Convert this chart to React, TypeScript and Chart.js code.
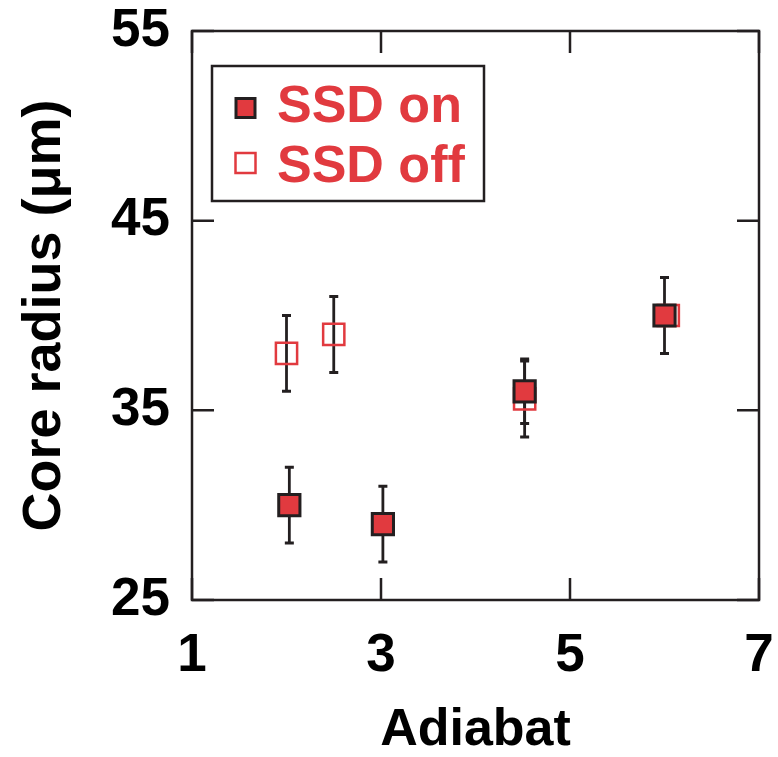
import React, { useEffect, useRef } from 'react';
import { Chart, registerables } from 'chart.js';
Chart.register(...registerables);

// SSD on (filled squares)
const onX = [2.03, 3.02, 4.52, 6.0];
const onY = [30, 29, 36, 40];
const onErr = [2, 2, 1.7, 2];
// SSD off (open squares)
const offX = [2.0, 2.5, 4.52, 6.04];
const offY = [38, 39, 35.6, 40];
const offErr = [2, 2, 2, 0];

const xTickValues = [1, 3, 5, 7];
const yTickValues = [25, 35, 45, 55];
const xTitle = 'Adiabat';
const yTitle = 'Core radius (μm)';
const seriesLabels = ['SSD on', 'SSD off'];

const RED = '#e13a3f';
const DARK = '#231f20';
const FONT = "'Liberation Sans', Arial, Helvetica, sans-serif";

const errorsByDataset = [onErr, offErr];

const errorBarPlugin = {
  id: 'errorBars',
  beforeDatasetsDraw(chart: any) {
    const ctx = chart.ctx;
    const xs = chart.scales.x;
    const ys = chart.scales.y;
    ctx.save();
    ctx.strokeStyle = DARK;
    chart.data.datasets.forEach((ds: any, i: number) => {
      const errs = errorsByDataset[i];
      ds.data.forEach((p: any, j: number) => {
        const e = errs[j];
        if (!e) return;
        const x = xs.getPixelForValue(p.x);
        const y1 = ys.getPixelForValue(p.y + e);
        const y2 = ys.getPixelForValue(p.y - e);
        ctx.lineWidth = 2.8;
        ctx.beginPath();
        ctx.moveTo(x, y1);
        ctx.lineTo(x, y2);
        ctx.stroke();
        ctx.lineWidth = 3;
        ctx.beginPath();
        ctx.moveTo(x - 4.5, y1);
        ctx.lineTo(x + 4.5, y1);
        ctx.moveTo(x - 4.5, y2);
        ctx.lineTo(x + 4.5, y2);
        ctx.stroke();
      });
    });
    ctx.restore();
  },
};

const framePlugin = {
  id: 'frameTicks',
  afterDraw(chart: any) {
    const ctx = chart.ctx;
    const { left, right, top, bottom } = chart.chartArea;
    const xs = chart.scales.x;
    const ys = chart.scales.y;
    const L = 22;
    ctx.save();
    ctx.strokeStyle = DARK;
    ctx.lineWidth = 2.5;
    ctx.strokeRect(left, top, right - left, bottom - top);
    ctx.beginPath();
    xTickValues.forEach((v) => {
      const x = xs.getPixelForValue(v);
      ctx.moveTo(x, bottom);
      ctx.lineTo(x, bottom - L);
      ctx.moveTo(x, top);
      ctx.lineTo(x, top + L);
    });
    yTickValues.forEach((v) => {
      const y = ys.getPixelForValue(v);
      ctx.moveTo(left, y);
      ctx.lineTo(left + L, y);
      ctx.moveTo(right, y);
      ctx.lineTo(right - L, y);
    });
    ctx.stroke();

    // legend
    const bx = left + 20;
    const by = top + 35;
    const bw = 272;
    const bh = 135;
    ctx.fillStyle = '#ffffff';
    ctx.fillRect(bx, by, bw, bh);
    ctx.lineWidth = 2.5;
    ctx.strokeStyle = DARK;
    ctx.strokeRect(bx, by, bw, bh);

    const mx = bx + 33.5;
    // filled marker
    ctx.fillStyle = RED;
    ctx.fillRect(mx - 9.5, by + 42 - 9.5, 19, 19);
    ctx.lineWidth = 3;
    ctx.strokeStyle = DARK;
    ctx.strokeRect(mx - 9.5, by + 42 - 9.5, 19, 19);
    // open marker
    ctx.lineWidth = 2.5;
    ctx.strokeStyle = RED;
    ctx.strokeRect(mx - 10, by + 97 - 10, 20, 20);

    ctx.fillStyle = RED;
    ctx.font = `bold 52px ${FONT}`;
    ctx.textBaseline = 'alphabetic';
    ctx.textAlign = 'left';
    ctx.fillText(chart.data.datasets[0].label, bx + 65, by + 56);
    ctx.fillText(chart.data.datasets[1].label, bx + 65, by + 116);
    ctx.restore();
  },
};

export default function App() {
  const ref = useRef<HTMLCanvasElement | null>(null);
  useEffect(() => {
    document.body.style.margin = '0';
    const canvas = ref.current;
    if (!canvas) return;
    const chart = new Chart(canvas, {
      type: 'scatter',
      data: {
        datasets: [
          {
            label: seriesLabels[0],
            data: onX.map((x, i) => ({ x, y: onY[i] })),
            pointStyle: 'rect',
            pointRadius: 15,
            backgroundColor: RED,
            borderColor: DARK,
            borderWidth: 3,
          },
          {
            label: seriesLabels[1],
            data: offX.map((x, i) => ({ x, y: offY[i] })),
            pointStyle: 'rect',
            pointRadius: 15,
            backgroundColor: 'rgba(0,0,0,0)',
            borderColor: RED,
            borderWidth: 2.5,
          },
        ],
      },
      options: {
        animation: false,
        responsive: false,
        layout: { padding: { left: 0, right: 19, top: 31, bottom: 0 } },
        plugins: { legend: { display: false }, tooltip: { enabled: false } },
        scales: {
          x: {
            type: 'linear',
            min: 1,
            max: 7,
            afterFit: (s: any) => {
              s.height = 157;
              s.paddingLeft = 0;
              s.paddingRight = 0;
            },
            afterBuildTicks: (s: any) => { s.ticks = xTickValues.map((v) => ({ value: v })); },
            grid: { display: false, drawTicks: false },
            border: { display: false },
            ticks: {
              padding: 25,
              color: '#000',
              font: { family: FONT, size: 53, weight: 'bold' },
              maxRotation: 0,
              autoSkip: false,
            },
            title: {
              display: true,
              text: xTitle,
              color: '#000',
              font: { family: FONT, size: 52, weight: 'bold', lineHeight: 1 },
              padding: { top: 0, bottom: 0 },
            },
          },
          y: {
            type: 'linear',
            min: 25,
            max: 55,
            afterFit: (s: any) => {
              s.width = 192;
              s.paddingTop = 0;
              s.paddingBottom = 0;
            },
            afterBuildTicks: (s: any) => { s.ticks = yTickValues.map((v) => ({ value: v })); },
            grid: { display: false, drawTicks: false },
            border: { display: false },
            ticks: {
              padding: 22,
              color: '#000',
              font: { family: FONT, size: 53, weight: 'bold' },
              autoSkip: false,
            },
            title: {
              display: true,
              text: yTitle,
              color: '#000',
              font: { family: FONT, size: 54, weight: 'bold', lineHeight: 1.2 },
              padding: { top: 13, bottom: 0 },
            },
          },
        },
      },
      plugins: [errorBarPlugin, framePlugin],
    } as any);
    return () => chart.destroy();
  }, []);
  return (
    <div style={{ position: 'absolute', left: 0, top: 0, width: 778, height: 757, background: '#fff' }}>
      <canvas ref={ref} width={778} height={757} />
    </div>
  );
}
